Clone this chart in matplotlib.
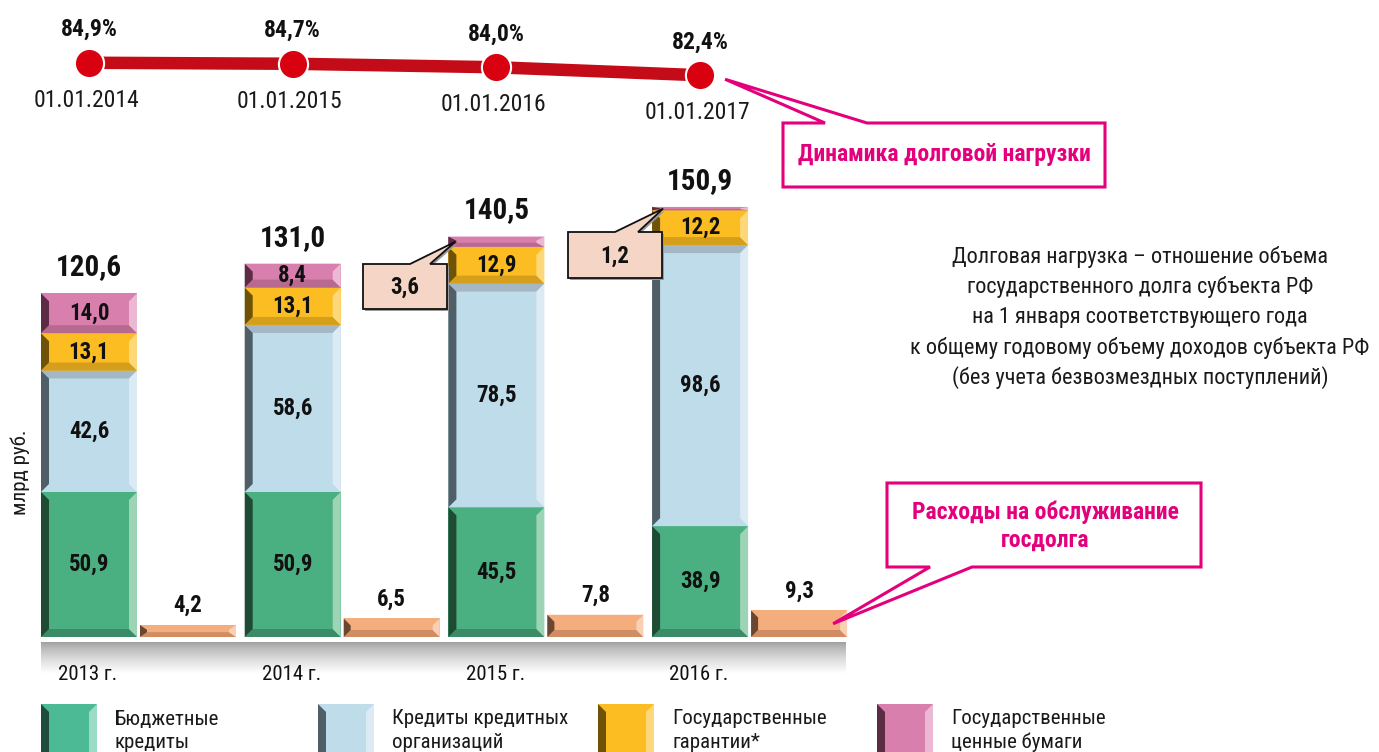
import numpy as np
import matplotlib
matplotlib.use("Agg")
import matplotlib.pyplot as plt
from matplotlib.patches import Polygon
from matplotlib import font_manager as fm

# ---- data ---------------------------------------------------------------
years = ["2013 г.", "2014 г.", "2015 г.", "2016 г."]
budget_loans = [50.9, 50.9, 45.5, 38.9]
bank_loans = [42.6, 58.6, 78.5, 98.6]
guarantees = [13.1, 13.1, 12.9, 12.2]
securities = [14.0, 8.4, 3.6, 1.2]
totals = [120.6, 131.0, 140.5, 150.9]
service_cost = [4.2, 6.5, 7.8, 9.3]

load_dates = ["01.01.2014", "01.01.2015", "01.01.2016", "01.01.2017"]
debt_load = [84.9, 84.7, 84.0, 82.4]

series_names = ["Бюджетные\nкредиты", "Кредиты кредитных\nорганизаций",
                "Государственные\nгарантии*", "Государственные\nценные бумаги"]

note_lines = ["Долговая нагрузка – отношение объема",
              "государственного долга субъекта РФ",
              "на 1 января соответствующего года",
              "к общему годовому объему доходов субъекта РФ",
              "(без учета безвозмездных поступлений)"]

# ---- fonts --------------------------------------------------------------
available = {f.name for f in fm.fontManager.ttflist}
NARROW = next((n for n in ["Liberation Sans Narrow", "Roboto Condensed",
                           "Liberation Sans"] if n in available), "DejaVu Sans")
FAM = [NARROW, "DejaVu Sans"]
plt.rcParams["font.family"] = FAM

# ---- palette: main, left bevel, right bevel, bottom bevel, top bevel -------
PAL = {
    "green":  ("#4bb081", "#1f4b34", "#9dd4b6", "#3b8c66", "#4bb081"),
    "blue":   ("#bfdcea", "#4f5e67", "#dbeaf3", "#bfdcea", "#a3b8c4"),
    "yellow": ("#fbbd22", "#6e5208", "#fdd87a", "#d59f1c", "#fbbd22"),
    "pink":   ("#d97fae", "#5c2b44", "#ecb9d4", "#b8698f", "#d97fae"),
    "orange": ("#f4ae7e", "#6b4631", "#f9d0b4", "#d08c63", "#f4ae7e"),
}
LEGEND_PAL = [("#4cba94", "#1f4d3b", "#9ddcc4", "#3d9a79", "#4cba94"),
              ("#bfdcea", "#4f5e67", "#dbeaf3", "#a3b8c4", "#bfdcea"),
              PAL["yellow"], PAL["pink"]]
MAGENTA = "#e4007c"

W, H = 1379, 752
fig = plt.figure(figsize=(W / 100, H / 100), dpi=100)
fig.patch.set_facecolor("white")

# bar axes: one category step = 203.7 px, 1 bln rub = 2.85 px
STEP, SCALE = 203.7, 2.85
X0, BASE = 89, 637
ax = fig.add_axes([0, 0, 1, 1], zorder=1)
ax.set_xlim(-X0 / STEP, (W - X0) / STEP)
ax.set_ylim(-(H - BASE) / SCALE, BASE / SCALE)
ax.axis("off")
ax.patch.set_alpha(0)

BW = 96 / STEP          # bar width
OFF = 99 / STEP         # offset of the debt-service bar
BEV = 8                 # bevel size in px


def bevel_bar(xc, bottom, height, pal, bev=BEV, axes=ax, sx=STEP, sy=SCALE, w=BW,
              flipped=False):
    main, left, right, low, top = pal
    if flipped:          # y axis pointing downwards
        low, top = top, low
    axes.bar(xc, height, w, bottom=bottom, color=main, linewidth=0, zorder=2)
    bx = bev / sx
    by = min(bev / sy, height * 0.4)
    x0, x1 = xc - w / 2, xc + w / 2
    y0, y1 = bottom, bottom + height
    polys = [
        ([(x0, y1), (x1, y1), (x1 - bx, y1 - by), (x0 + bx, y1 - by)], top),
        ([(x0, y0), (x1, y0), (x1 - bx, y0 + by), (x0 + bx, y0 + by)], low),
        ([(x0, y0), (x0 + bx, y0 + by), (x0 + bx, y1 - by), (x0, y1)], left),
        ([(x1, y0), (x1 - bx, y0 + by), (x1 - bx, y1 - by), (x1, y1)], right),
    ]
    for pts, c in polys:
        axes.add_patch(Polygon(pts, closed=True, facecolor=c, edgecolor="none", zorder=3))


x = np.arange(len(years))
stack = [(budget_loans, "green"), (bank_loans, "blue"),
         (guarantees, "yellow"), (securities, "pink")]
for i in x:
    bottom = 0.0
    for vals, key in stack:
        v = vals[i]
        bevel_bar(i, bottom, v, PAL[key])
        if v >= 5:
            ax.text(i, bottom + v / 2, f"{v:.1f}".replace(".", ","), ha="center",
                    va="center", fontsize=16.5, fontweight="bold", color="#111111", zorder=5)
        bottom += v
    ax.text(i, bottom + 12 / SCALE, f"{totals[i]:.1f}".replace(".", ","), ha="center",
            va="bottom", fontsize=21, fontweight="bold", color="#111111", zorder=5)
    bevel_bar(i + OFF, 0, service_cost[i], PAL["orange"], bev=7)
    ax.text(i + OFF, service_cost[i] + 8 / SCALE, f"{service_cost[i]:.1f}".replace(".", ","),
            ha="center", va="bottom", fontsize=16.5, fontweight="bold", color="#111111", zorder=5)

# ---- debt-load line -----------------------------------------------------
ax2 = ax.twinx()
ax2.set_zorder(2)
ax2.axis("off")
PSCALE, PMID, VMID = 5.0, 67.25, 84.0
ax2.set_ylim(VMID - (H - PMID) / PSCALE, VMID + PMID / PSCALE)
ax2.plot(x, debt_load, color="#c40c18", lw=9, solid_capstyle="butt", zorder=2)
ax2.plot(x, debt_load, "o", ms=21, mfc="#d9000f", mec="white", mew=1.5, zorder=3)
for i in x:
    ax2.annotate(f"{debt_load[i]:.1f}%".replace(".", ","), (i, debt_load[i]),
                 xytext=(0, 24), textcoords="offset points", ha="center", va="center",
                 fontsize=17, fontweight="bold", color="#111111")
    ax2.annotate(load_dates[i], (i, debt_load[i]), xytext=(-2, -27),
                 textcoords="offset points", ha="center", va="center",
                 fontsize=17, color="#1a1a1a")

# ---- overlay in pixel coordinates (y downwards) --------------------------
deco = fig.add_axes([0, 0, 1, 1], zorder=3)
deco.axis("off")
deco.patch.set_alpha(0)


def to_px(axes, xy):
    dx, dy = axes.transData.transform(xy)
    return dx, H - dy


def callout(box, base, tip, face, edge, lw, shadow=False):
    x0, y0, x1, y1 = box
    b0, b1, side = base
    if side == "top":
        pts = [(x0, y0), (b0, y0), tip, (b1, y0), (x1, y0), (x1, y1), (x0, y1)]
    else:
        pts = [(x0, y0), (x1, y0), (x1, y1), (b1, y1), tip, (b0, y1), (x0, y1)]
    if shadow:
        deco.add_patch(Polygon([(px + 2, py + 2) for px, py in pts], closed=True,
                               facecolor="#9a9a9a", edgecolor="none", zorder=1))
    deco.add_patch(Polygon(pts, closed=True, facecolor=face, edgecolor=edge,
                           linewidth=lw, joinstyle="miter", zorder=2))


# gray floor band under the bars with year captions
grad_y = np.linspace(0, 1, 64)
shade = 0.62 + 0.38 * np.clip(grad_y * 1.15, 0, 1) ** 0.75
img = np.repeat(shade[:, None, None], 3, axis=2)
deco.imshow(img, extent=(41, 846, 678, 642), origin="upper", aspect="auto",
            interpolation="bilinear", zorder=0)
for i in x:
    cx, _ = to_px(ax, (i, 0))
    deco.text(cx - 1, 675, years[i], ha="center", va="center",
              fontsize=15, color="#111111", zorder=3)

# small-segment callouts
sec_bottom = [budget_loans[i] + bank_loans[i] + guarantees[i] for i in x]
tip15 = to_px(ax, (2 - BW / 2 + 7 / STEP, sec_bottom[2] + securities[2] / 2))
callout((363, 264, 447, 309), (410, 430, "top"), tip15, "#f5d6c6", "#111111", 1.3, True)
deco.text(405, 287, f"{securities[2]:.1f}".replace(".", ","), ha="center", va="center",
          fontsize=16.5, fontweight="bold", color="#111111", zorder=3)
tip16 = to_px(ax, (3 - BW / 2 + 11 / STEP, sec_bottom[3] + securities[3] / 2))
callout((568, 232, 662, 278), (615, 638, "top"), tip16, "#f5d6c6", "#111111", 1.3, True)
deco.text(615, 256, f"{securities[3]:.1f}".replace(".", ","), ha="center", va="center",
          fontsize=16.5, fontweight="bold", color="#111111", zorder=3)

# magenta callouts
dot = to_px(ax2, (3, debt_load[3]))
callout((783, 123, 1105, 187), (825, 867, "top"), (dot[0] + 25, dot[1] + 4),
        "white", MAGENTA, 2.2)
deco.text(944, 155, "Динамика долговой нагрузки", ha="center", va="center",
          fontsize=17, fontweight="bold", color=MAGENTA, zorder=3)

tip_srv = to_px(ax, (3 + OFF + BW / 2 - 14 / STEP, service_cost[3] / 2))
callout((887, 483, 1201, 567), (930, 972, "bottom"), tip_srv, "white", MAGENTA, 2.2)
deco.text(1045, 512, "Расходы на обслуживание", ha="center", va="center",
          fontsize=17, fontweight="bold", color=MAGENTA, zorder=3)
deco.text(1045, 540, "госдолга", ha="center", va="center",
          fontsize=17, fontweight="bold", color=MAGENTA, zorder=3)

# explanatory note
for k, line in enumerate(note_lines):
    deco.text(1140, 257 + 30.2 * k, line, ha="center", va="center",
              fontsize=16, color="#1a1a1a", zorder=3)

# axis caption
deco.text(20, 472, "млрд руб.", rotation=90, ha="center", va="center",
          fontsize=15, color="#1a1a1a")

# legend
leg_x = [41, 318, 598, 877]
for k, lx in enumerate(leg_x):
    bevel_bar(lx + 28, 704, 58, LEGEND_PAL[k], bev=8, axes=deco, sx=1, sy=1, w=56,
              flipped=True)
    first, second = series_names[k].split("\n")
    deco.text(lx + 74, 719, first, ha="left", va="center",
              fontsize=15, color="#1a1a1a")
    deco.text(lx + 74, 742, second, ha="left", va="center",
              fontsize=15, color="#1a1a1a")

deco.set_xlim(0, W)
deco.set_ylim(H, 0)

fig.savefig("out.png", dpi=100, facecolor="white")
